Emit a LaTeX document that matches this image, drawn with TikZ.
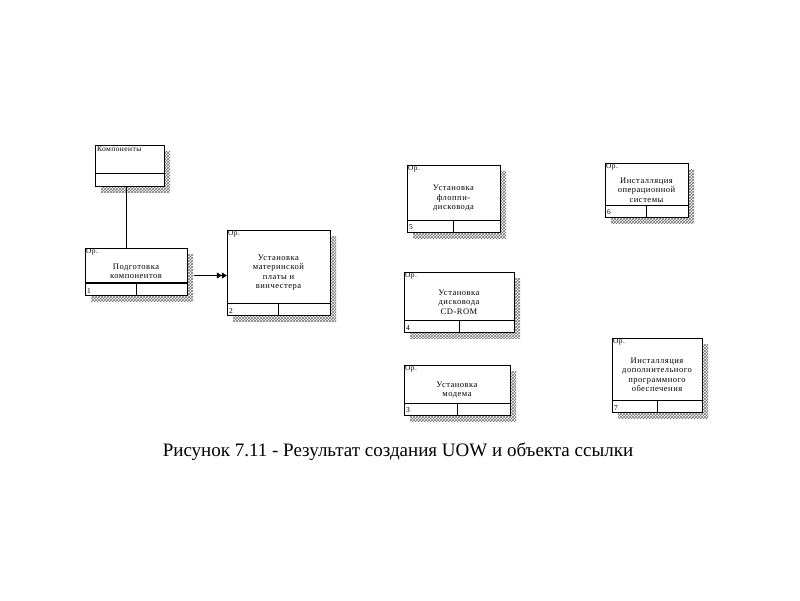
\documentclass[tikz,border=0pt]{standalone}
\usepackage{fontspec}
\setmainfont{Liberation Serif}
\newfontfamily\uowfont[LetterSpace=6]{Liberation Serif}
\usetikzlibrary{arrows.meta,patterns,shadows}

\tikzset{
  uow/.style={draw, fill=white, inner sep=0pt, align=center,
    font=\uowfont\fontsize{8.5}{9.5}\selectfont,
    general shadow={shadow xshift=6pt, shadow yshift=-6pt,
      pattern=crosshatch, pattern color=black!55}},
  tag/.style={inner sep=1pt, font=\uowfont\fontsize{7.5}{8}\selectfont},
  link/.style={-{Triangle[length=5pt,width=6pt]Triangle[length=5pt,width=6pt]}}
}

\begin{document}
\begin{tikzpicture}[x=1pt,y=-1pt]
  \useasboundingbox (0,0) rectangle (800,600);
  \fill[white] (0,0) rectangle (800,600);

  % reference object
  \node[uow, minimum width=69pt, minimum height=41pt] (k) at (129.5,165.5) {};
  \node[tag, anchor=north west] (kt) at ([xshift=1pt,yshift=-1pt]k.north west) {Компоненты};
  \draw ([yshift=13pt]k.south west) -- ([yshift=13pt]k.south east);

  % units of work
  \node[uow, minimum width=102pt, minimum height=47pt, text width=98pt] (b1) at (136,271.5)
    {Подготовка\\компонентов};
  \node[uow, minimum width=103pt, minimum height=85pt, text width=98pt] (b2) at (278.5,272.5)
    {Установка\\материнской\\платы и\\винчестера};
  \node[uow, minimum width=93pt, minimum height=67pt, text width=90pt] (b5) at (453.5,198.5)
    {Установка\\флоппи-\\дисковода};
  \node[uow, minimum width=83pt, minimum height=54pt, text width=82pt] (b6) at (646.5,190)
    {Инсталляция\\операционной\\системы};
  \node[uow, minimum width=110pt, minimum height=60pt, text width=100pt] (b4) at (459,302)
    {Установка\\дисковода\\CD-ROM};
  \node[uow, minimum width=106pt, minimum height=50pt, text width=100pt] (b3) at (457,390)
    {Установка\\модема};
  \node[uow, minimum width=90pt, minimum height=74pt, text width=89pt] (b7) at (657,375)
    {Инсталляция\\дополнительного\\программного\\обеспечения};

  \foreach \b/\n in {b1/1,b2/2,b5/5,b6/6,b4/4,b3/3,b7/7}{
    \draw ([yshift=12.5pt]\b.south west) -- ([yshift=12.5pt]\b.south east);
    \draw (\b.south) -- ([yshift=12.5pt]\b.south);
    \node[tag, anchor=south west] (\b n) at ([xshift=1pt,yshift=1pt]\b.south west) {\n};
    \node[tag, anchor=north west] (\b o) at (\b.north west) {Ор.};
  }
  \draw[line width=1.2pt] ([yshift=12.5pt]b1.south west) -- ([yshift=12.5pt]b1.south east);

  % connectors
  \coordinate (kc) at ([xshift=-3.5pt]k.south);
  \draw[line width=0.8pt] (kc) -- (kc |- b1.north);
  \coordinate (ac) at ([yshift=-4pt]b1.east);
  \draw[link, shorten <=7pt] (ac) -- (ac -| b2.west);

  \node (cap) at (398,452) {\fontsize{19}{21}\selectfont Рисунок 7.11 - Результат создания UOW и объекта ссылки};
\end{tikzpicture}
\end{document}
